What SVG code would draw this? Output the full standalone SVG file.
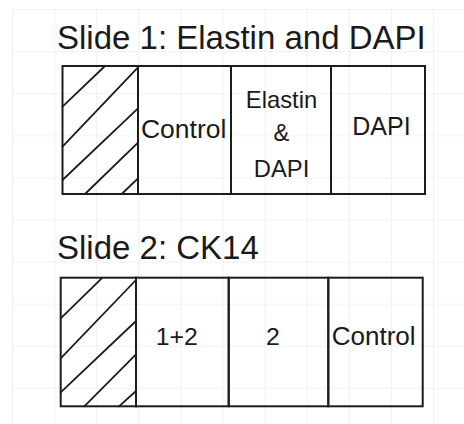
<svg xmlns="http://www.w3.org/2000/svg" width="464" height="424" viewBox="0 0 464 424">
  <defs>
    <pattern id="grid" x="12" y="9" width="42.1" height="42.1" patternUnits="userSpaceOnUse">
      <path d="M0 0 H42.1 M0 0 V42.1" fill="none" stroke="#e6e6e6" stroke-width="1.2"/>
    </pattern>
  </defs>
  <style>
    .box { fill: none; stroke: #1c1c1c; stroke-width: 2; }
    .hatch { fill: none; stroke: #1c1c1c; stroke-width: 1.8; stroke-linecap: round; }
    .title { font-family: "Liberation Sans", Arial, sans-serif; font-size: 33px; fill: #1a1a1a; }
    .lbl { font-family: "Liberation Sans", Arial, sans-serif; fill: #1a1a1a; text-anchor: middle; }
  </style>

  <!-- background grid -->
  <rect width="464" height="424" fill="#ffffff"/>
  <rect x="12" y="9" width="452" height="415" fill="url(#grid)"/>

  <!-- Slide 1 -->
  <g id="slide1">
    <text class="title" x="57" y="49">Slide 1: Elastin and DAPI</text>
    <g id="slide1-blank">
      <rect class="box" x="62.5" y="66" width="75.5" height="128"/>
      <path class="hatch" d="M62.5 106.7 L105 66 M62.5 146.7 L138 67.3 M62.5 180 L138 108.3 M85 194 L138 142.7 M121.7 194 L138 178.3"/>
    </g>
    <g id="slide1-control">
      <rect class="box" x="138" y="66" width="93" height="128"/>
      <text class="lbl" x="183.7" y="137.5" font-size="26.5">Control</text>
    </g>
    <g id="slide1-elastin-dapi">
      <rect class="box" x="231" y="66" width="100" height="128"/>
      <text class="lbl" x="281.5" y="108.3" font-size="23.8">Elastin</text>
      <text class="lbl" x="281.5" y="141" font-size="23.8">&amp;</text>
      <text class="lbl" x="281.5" y="176.5" font-size="23.8">DAPI</text>
    </g>
    <g id="slide1-dapi">
      <rect class="box" x="331" y="66" width="94" height="128"/>
      <text class="lbl" x="381.5" y="134.5" font-size="25">DAPI</text>
    </g>
  </g>

  <!-- Slide 2 -->
  <g id="slide2">
    <text class="title" x="57" y="259.3">Slide 2: CK14</text>
    <g id="slide2-blank">
      <rect class="box" x="60.7" y="277.7" width="75.3" height="128.6"/>
      <path class="hatch" d="M60.7 318.3 L101.7 278.3 M60.7 358.3 L136 280 M60.7 392.3 L136 321 M84.3 406.3 L136 354.3 M119 406.3 L136 391"/>
    </g>
    <g id="slide2-12">
      <rect class="box" x="136" y="277.7" width="92.7" height="128.6"/>
      <text class="lbl" x="176.7" y="345" font-size="24.8">1+2</text>
    </g>
    <g id="slide2-2">
      <rect class="box" x="228.7" y="277.7" width="99.6" height="128.6"/>
      <text class="lbl" x="272.9" y="345" font-size="24.8">2</text>
    </g>
    <g id="slide2-control">
      <rect class="box" x="328.3" y="277.7" width="94.4" height="128.6"/>
      <text class="lbl" x="373.7" y="345" font-size="26">Control</text>
    </g>
  </g>
</svg>
